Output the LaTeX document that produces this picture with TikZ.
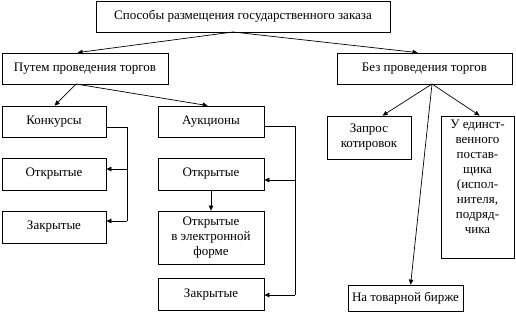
\documentclass[tikz,border=0pt]{standalone}
\usepackage{fontspec}
\setmainfont{Liberation Serif}
\usetikzlibrary{arrows.meta}
\begin{document}
\begin{tikzpicture}[x=1pt,y=-1pt,
  box/.style={draw,line width=0.8pt,inner sep=0pt,align=center,font=\fontsize{13}{15}\selectfont},
  conn/.style={line width=0.7pt,-{Triangle[length=5pt,width=4.5pt]}},
  plain/.style={line width=0.7pt}]
\useasboundingbox (0,0) rectangle (516,311);
\node[box,minimum width=294pt,minimum height=31pt] (top) at (243,16.5) {Способы размещения государственного заказа};
\node[box,minimum width=166pt,minimum height=31pt] (tor) at (85,68.5) {Путем проведения торгов};
\node[box,minimum width=175pt,minimum height=31pt] (bez) at (424.5,68.5) {Без проведения торгов};
\node[box,minimum width=104pt,minimum height=31pt] (kon) at (54,121.5) {Конкурсы};
\node[box,minimum width=104pt,minimum height=32pt] (kop) at (54,174) {Открытые};
\node[box,minimum width=104pt,minimum height=32pt] (kzk) at (54,227) {Закрытые};
\node[box,minimum width=106pt,minimum height=31pt] (auk) at (211,121.5) {Аукционы};
\node[box,minimum width=106pt,minimum height=32pt] (aop) at (211,174) {Открытые};
\node[box,minimum width=106pt,minimum height=53pt] (ael) at (211,237.5) {Открытые\\в электронной\\форме};
\node[box,minimum width=106pt,minimum height=32pt] (azk) at (211,294.5) {Закрытые};
\node[box,minimum width=84pt,minimum height=43pt] (zap) at (369,137.5) {Запрос\\котировок};
\node[box,minimum width=73pt,minimum height=142pt] (edi) at (477.5,187) {};
\node[box,draw=none,anchor=north] (edt) at (477.5,120) {У единст-\\венного\\постав-\\щика\\(испол-\\нителя,\\подряд-\\чика};
\node[box,minimum width=115pt,minimum height=26pt] (tov) at (405.5,298) {На товарной бирже};
% arrows from top
\coordinate (t0) at (233,32);
\draw[conn] (t0) -- ([xshift=76pt]tor.north west);
\draw[conn] (t0) -- ([xshift=81pt]bez.north west);
% from torgi
\coordinate (p0) at (76,84);
\draw[conn] (p0) -- ([xshift=53pt]kon.north west);
\draw[conn] (p0) -- ([xshift=50pt]auk.north west);
% from bez
\coordinate (b0) at (432,84);
\draw[conn] (b0) -- ([xshift=56pt]zap.north west);
\draw[conn] (b0) -- ([xshift=39pt]edi.north west);
\draw[conn] (b0) -- ([xshift=63pt]tov.north west);
% konkursy bracket
\coordinate (kc1) at (127,127);
\coordinate (kc2) at (127,169);
\coordinate (kc3) at (127,221);
\draw[plain] (kon.east |- kc1) -- (kc1) -- (kc3);
\draw[conn] (kc2) -- (kop.east |- kc2);
\draw[conn] (kc3) -- (kzk.east |- kc3);
% auction bracket
\coordinate (ac1) at (295,126);
\coordinate (ac2) at (295,180);
\coordinate (ac3) at (295,295);
\draw[plain] (auk.east |- ac1) -- (ac1) -- (ac3);
\draw[conn] (ac2) -- (aop.east |- ac2);
\draw[conn] (ac3) -- (azk.east |- ac3);
\draw[conn] (aop.south) -- (ael.north);
\end{tikzpicture}
\end{document}
